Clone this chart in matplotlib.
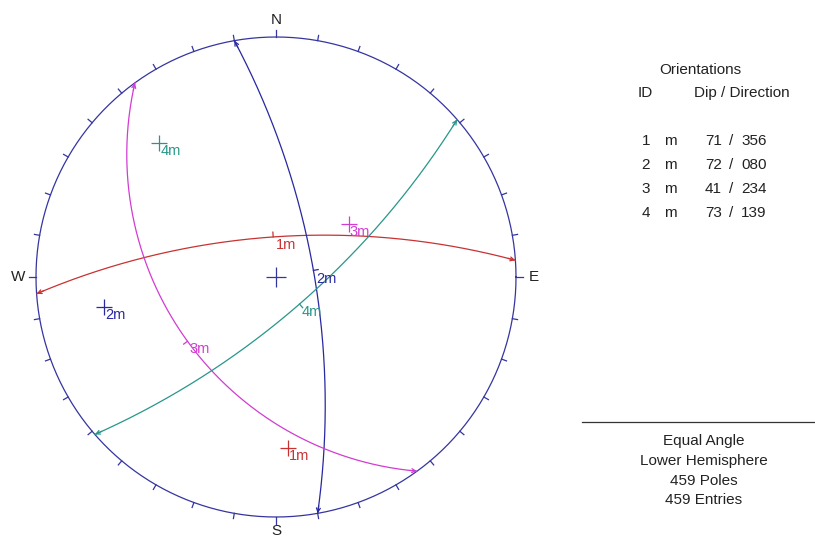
import numpy as np
import matplotlib
matplotlib.use("Agg")
import matplotlib.pyplot as plt

plt.rcParams['font.family'] = ['Liberation Sans', 'DejaVu Sans']

# ---- data ----
ids = [1, 2, 3, 4]
sets = ["m", "m", "m", "m"]
dips = [71, 72, 41, 73]
dip_dirs = [356, 80, 234, 139]
colors = ["#c83232", "#2828a0", "#d23cd2", "#28968a"]
n_poles = 459
n_entries = 459

W, H = 815, 538
fig = plt.figure(figsize=(W / 100, H / 100), dpi=100)
cx, cy, R = 276, 277, 240
ax = fig.add_axes([(cx - R) / W, (H - cy - R) / H, 2 * R / W, 2 * R / H])
ax.set_xlim(-1, 1)
ax.set_ylim(-1, 1)
ax.set_aspect('equal')
ax.axis('off')

outline = "#3535a0"

def proj(trend, plunge):
    r = np.tan(np.radians(90 - plunge) / 2)
    t = np.radians(trend)
    return r * np.sin(t), r * np.cos(t)

# primitive circle
th = np.linspace(0, 2 * np.pi, 721)
ax.plot(np.cos(th), np.sin(th), color=outline, lw=0.9, clip_on=False)
for az in range(0, 360, 10):
    a = np.radians(az)
    L = 0.03 if az % 90 == 0 else 0.022
    ax.plot([np.sin(a), (1 + L) * np.sin(a)], [np.cos(a), (1 + L) * np.cos(a)],
            color=outline, lw=0.9, clip_on=False)

for lab, az, rr in zip(["N", "E", "S", "W"], [0, 90, 180, 270], [1.07, 1.075, 1.06, 1.075]):
    a = np.radians(az)
    ax.text(rr * np.sin(a), rr * np.cos(a), lab, ha='center', va='center',
            fontsize=11, color='#222222', clip_on=False)

# center mark
ax.plot([0], [0], marker='+', ms=14, mew=0.9, color=outline)

for i in range(len(ids)):
    dip, dd, col = dips[i], dip_dirs[i], colors[i]
    d, a = np.radians(dip), np.radians(dd)
    s_vec = np.array([np.cos(a - np.pi / 2), np.sin(a - np.pi / 2), 0.0])
    d_vec = np.array([np.cos(d) * np.cos(a), np.cos(d) * np.sin(a), np.sin(d)])
    tt = np.linspace(0, np.pi, 400)
    v = np.outer(np.cos(tt), s_vec) + np.outer(np.sin(tt), d_vec)
    plunge = np.degrees(np.arcsin(np.clip(v[:, 2], -1, 1)))
    trend = np.degrees(np.arctan2(v[:, 1], v[:, 0]))
    x, y = proj(trend, plunge)
    ax.plot(x, y, color=col, lw=0.9)
    # arrowheads at ends
    for (e, p) in [(0, 4), (-1, -5)]:
        ax.annotate('', xy=(x[e], y[e]), xytext=(x[p], y[p]),
                    arrowprops=dict(arrowstyle='->', color=col, lw=0.9,
                                    mutation_scale=7, shrinkA=0, shrinkB=0))
    # dip vector label
    ax_, ay_ = proj(dd, dip)
    rr = np.hypot(ax_, ay_)
    ux, uy = (ax_ / rr, ay_ / rr) if rr > 0 else (0, 1)
    ax.plot([ax_, ax_ + 0.02 * ux], [ay_, ay_ + 0.02 * uy], color=col, lw=0.9)
    ax.text(ax_ + 0.01, ay_ - 0.005, f"{ids[i]}{sets[i]}", color=col, fontsize=10.5,
            ha='left', va='top')
    # pole
    px, py = proj((dd + 180) % 360, 90 - dip)
    ax.plot([px], [py], marker='+', ms=11, mew=0.9, color=col)
    ax.text(px + 0.005, py - 0.005, f"{ids[i]}{sets[i]}", color=col, fontsize=10.5,
            ha='left', va='top')

# right panel
tc = '#222222'
def ftext(x, y, s, ha='center'):
    fig.text(x / W, 1 - y / H, s, ha=ha, va='center', fontsize=11, color=tc)

ftext(700, 70, "Orientations")
ftext(645, 93, "ID")
ftext(742, 93, "Dip / Direction")
for k in range(len(ids)):
    yy = 141 + k * 24
    ftext(646, yy, str(ids[k]))
    ftext(670, yy, sets[k])
    ftext(722, yy, f"{dips[k]:d}", ha='right')
    ftext(731, yy, "/")
    ftext(741, yy, f"{dip_dirs[k]:03d}", ha='left')

fig.add_artist(plt.Line2D([582 / W, 1.0], [1 - 422 / H, 1 - 422 / H], color='#333333', lw=0.9))
ftext(704, 441, "Equal Angle")
ftext(704, 461, "Lower Hemisphere")
ftext(704, 481, f"{n_poles} Poles")
ftext(704, 500, f"{n_entries} Entries")

fig.savefig("out.png", dpi=100)
